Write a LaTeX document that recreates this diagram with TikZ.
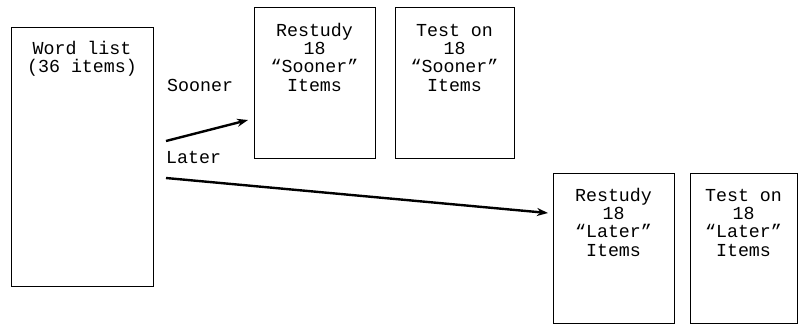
\documentclass[tikz,border=0pt]{standalone}
\usepackage{fontspec}
\setmainfont{Liberation Mono}
\usetikzlibrary{arrows.meta}
\begin{document}
\begin{tikzpicture}[x=1pt,y=-1pt,
  box/.style={draw, line width=1pt, inner sep=0pt},
  txt/.style={align=center, inner sep=0pt, anchor=base, font=\fontsize{18.3}{18.3}\selectfont},
  lbl/.style={inner sep=0pt, anchor=base west, font=\fontsize{18.3}{18.3}\selectfont},
  arr/.style={line width=2.4pt, -{Stealth[length=11pt,width=8pt]}}]
\useasboundingbox (0,0) rectangle (799,325);
\node[box, minimum width=142pt, minimum height=259pt] (wl) at (82,156.5) {};
\node[box, minimum width=121pt, minimum height=151pt] (rs) at (314.5,82.5) {};
\node[box, minimum width=119pt, minimum height=151pt] (ts) at (454.5,82.5) {};
\node[box, minimum width=121pt, minimum height=150pt] (rl) at (613.5,248) {};
\node[box, minimum width=107pt, minimum height=150pt] (tl) at (743.5,248) {};
\node[txt] (wlt) at (82,72.5) {Word list\\(36 items)};
\node[txt] (rst) at (314.5,91) {Restudy\\18\\“Sooner”\\Items};
\node[txt] (tst) at (454.5,91) {Test on\\18\\“Sooner”\\Items};
\node[txt] (rlt) at (613.5,256) {Restudy\\18\\“Later”\\Items};
\node[txt] (tlt) at (743.5,256) {Test on\\18\\“Later”\\Items};
\node[lbl] (sl) at (167,91) {Sooner};
\node[lbl] (ll) at (166,163) {Later};
\coordinate (s0) at (166,141);
\coordinate (s1) at (248,120);
\coordinate (l0) at (166,178);
\coordinate (l1) at (548,213);
\draw[arr] (s0) -- (s1);
\draw[arr] (l0) -- (l1);
\end{tikzpicture}
\end{document}
